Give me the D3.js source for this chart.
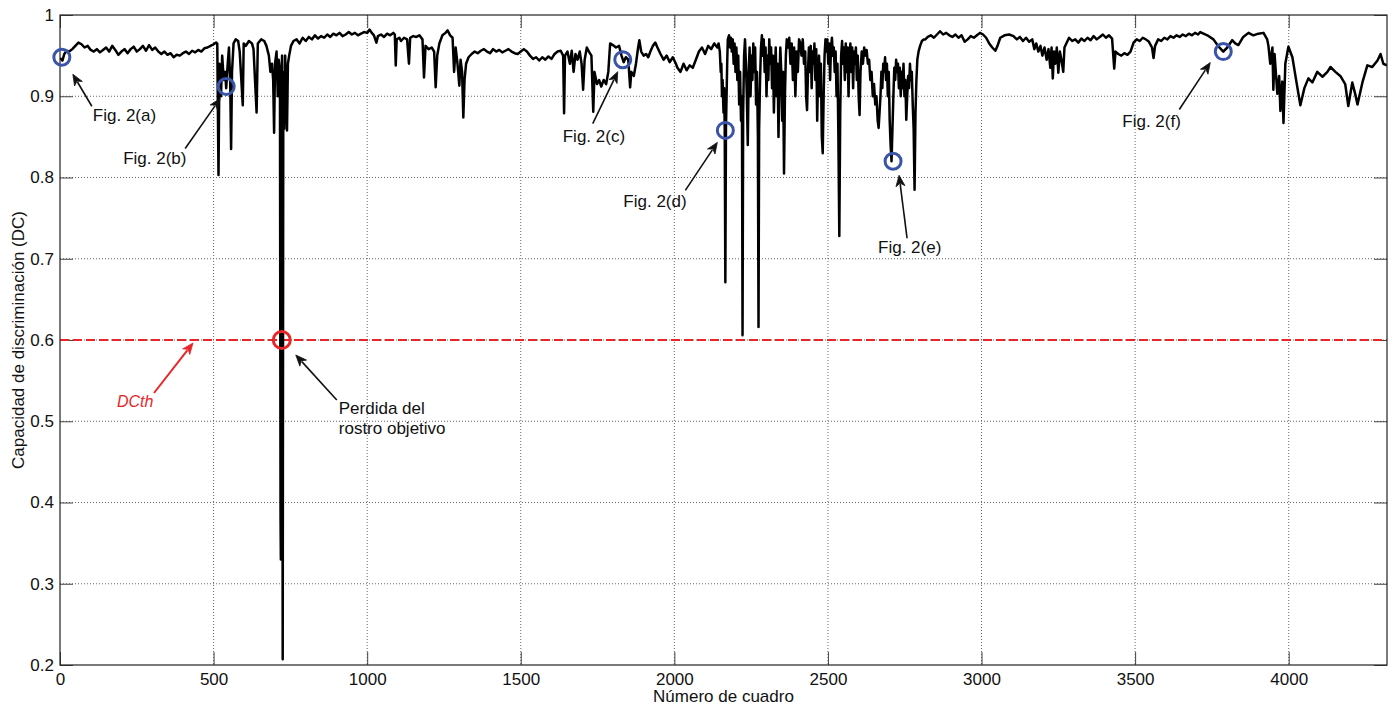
<!DOCTYPE html>
<html>
<head>
<meta charset="utf-8">
<script src="https://cdn.jsdelivr.net/npm/d3@7"></script>
<style>
  body { margin: 0; background: #fff; }
  text { font-family: "Liberation Sans", Arial, Helvetica, sans-serif; }
</style>
</head>
<body>
<svg id="chart" width="1398" height="711"></svg>
<script>
// Discrimination capability (DC) per video frame
const frameNumbers = [
  0,8,14,22,30,40,50,60,70,80,90,100,110,120,130,140,150,160,170,180,190,200,210,220,230,240,250,260,270,280,290,300,310,320,330,340,350,360,370,380,390,400,410,420,430,440,450,460,470,480,490,500,508,
  512,516,519,524,528,533,538,541,546,550,554,557,560,565,572,580,585,595,598,605,615,625,630,640,644,655,665,672,680,685,690,694,697,700,705,709,712,716,718,719,720,721,723,725,727,730,733,736,739,742,746,752,760,770,
  780,790,800,810,820,830,840,850,860,870,880,890,900,910,920,930,940,950,960,970,980,990,1000,1008,1015,1022,1030,1035,1045,1055,1065,1075,1085,1090,1093,1096,1105,
  1110,1120,1130,1136,1140,1150,1160,1170,1180,1185,1190,1200,1210,1218,1223,1228,1235,1245,1255,1262,1270,1278,1283,1288,1294,1300,1304,1309,1313,1317,1322,1330,1340,1350,1360,1370,1380,1390,1400,1410,1420,1430,1440,1450,1460,1470,1480,1490,1500,
  1510,1520,1530,1540,1550,1560,1570,1580,1590,1600,1610,1620,1630,1638,1641,1644,1652,1660,1666,1672,1678,1685,1692,1698,1703,1708,1715,1722,1730,1736,1740,1748,1755,1762,1770,1778,1785,1791,1800,1810,1820,1828,1835,1842,1850,1856,1860,1868,1875,1882,1886,1892,1900,1908,1915,1922,1930,1938,1945,1955,1965,1975,1985,1995,2005,
  2010,2020,2030,2040,2050,2060,2070,2080,2090,2100,2110,2120,2130,
  2140,2144,2148,2151,2153,2155,2157,2160,2162,2164,2166,2168,2170,2172,2174,2178,2181,2184,2187,2190,2193,2196,2199,2202,2205,2208,2211,2214,2217,2220,2222,2224,2227,2230,2233,2236,2239,2242,2245,2248,2251,2254,2257,2260,2263,2266,2269,2272,2274,2276,2279,2282,2285,2288,2291,2294,2297,2300,2303,2306,2309,2312,2315,2318,2321,2324,2327,2330,2333,2336,2339,2342,2345,2348,2351,2354,2357,2360,2363,2366,2370,2374,2378,2382,2386,2390,2394,2398,2402,2406,2410,2414,2418,
  2422,2426,2429,2432,2435,2438,2441,2444,2447,2450,2453,2456,2459,2462,2465,2468,2471,2474,2477,2480,2483,2486,2489,2492,2495,2498,2501,2504,2507,2510,2513,2516,2519,2522,2525,2528,2531,2534,2537,2540,2543,2546,2549,2552,2555,2558,2561,2564,2567,2570,2573,2576,2579,2582,2585,2588,2591,2594,2597,2600,2603,2606,2610,2614,2618,2622,2626,2630,2634,2638,2642,2646,2650,2654,2658,2662,2665,2668,2671,2674,2677,2680,2683,2686,2689,2692,2695,2698,2701,2704,2707,2710,2713,2716,2719,2722,2725,2728,2731,2734,2737,2740,2743,2746,2749,2752,2755,2758,2761,2764,2767,2770,2773,2776,2779,2782,2785,2788,2791,2795,2800,2806,2812,
  2817,2825,2835,2845,2855,2865,2875,2885,2895,2905,2915,2925,2935,2945,2955,2965,2975,2985,2995,3005,3015,3025,3035,3045,3052,3061,
  3075,3090,3104,3115,3125,3135,3145,3155,3165,3172,3178,3185,3192,3198,3205,3212,3218,3224,3228,3232,3236,3240,3245,3250,3255,3260,3266,3270,3276,3285,3295,3305,3315,3325,3335,3345,3355,3365,3375,3385,3395,3405,3415,3425,3432,3436,3445,3455,3465,3475,3485,3495,3505,3515,3525,3535,3545,3555,3560,3565,3575,3585,3595,3605,3615,3625,3635,3645,3655,3665,3675,3685,3695,3705,3712,
  3735,3755,3772,3787,3800,3816,3826,3836,3852,3869,3885,3901,3918,3930,3934,3940,3947,3950,3954,3963,3969,3973,3979,3983,3989,3999,4012,4025,4038,4051,4064,4077,4093,4110,4126,4136,4152,4168,4184,4194,4207,4217,4224,4240,4256,4272,4289,4299,4308,4320
];
const dcValues = [
  0.947,0.944,0.952,0.956,0.955,0.958,0.962,0.966,0.964,0.960,0.962,0.957,0.955,0.958,0.954,0.957,0.960,0.955,0.962,0.957,0.951,0.955,0.958,0.953,0.958,0.961,0.955,0.958,0.962,0.956,0.963,0.957,0.960,0.955,0.952,0.955,0.951,0.953,0.948,0.951,0.950,0.953,0.955,0.952,0.956,0.954,0.957,0.955,0.959,0.960,0.962,0.964,0.966,
  0.965,0.803,0.940,0.900,0.950,0.920,0.930,0.910,0.940,0.960,0.920,0.835,0.930,0.965,0.970,0.968,0.955,0.889,0.965,0.962,0.968,0.965,0.958,0.880,0.965,0.970,0.968,0.962,0.950,0.930,0.940,0.920,0.855,0.940,0.955,0.900,0.945,0.930,0.380,0.330,0.370,0.920,0.950,0.207,0.930,0.860,0.950,0.900,0.858,0.940,0.950,0.962,0.968,0.970,
  0.965,0.972,0.968,0.973,0.970,0.975,0.971,0.974,0.972,0.976,0.973,0.977,0.975,0.978,0.974,0.976,0.979,0.976,0.978,0.975,0.977,0.979,0.978,0.982,0.978,0.975,0.966,0.974,0.976,0.973,0.977,0.975,0.978,0.976,0.938,0.970,0.972,
  0.968,0.972,0.970,0.940,0.972,0.974,0.973,0.975,0.970,0.923,0.962,0.958,0.960,0.955,0.911,0.950,0.965,0.975,0.978,0.981,0.975,0.972,0.930,0.960,0.940,0.913,0.945,0.930,0.874,0.920,0.940,0.948,0.952,0.955,0.953,0.956,0.958,0.955,0.953,0.958,0.955,0.957,0.954,0.956,0.958,0.955,0.953,0.952,0.955,
  0.958,0.955,0.950,0.946,0.948,0.944,0.948,0.945,0.949,0.946,0.952,0.955,0.956,0.950,0.879,0.950,0.955,0.940,0.956,0.930,0.952,0.945,0.955,0.940,0.908,0.945,0.960,0.955,0.950,0.881,0.930,0.915,0.920,0.912,0.920,0.915,0.930,0.965,0.963,0.960,0.962,0.950,0.942,0.948,0.945,0.911,0.930,0.925,0.940,0.960,0.969,0.955,0.950,0.952,0.948,0.955,0.962,0.966,0.960,0.952,0.945,0.950,0.942,0.948,0.940,
  0.935,0.930,0.940,0.932,0.938,0.935,0.945,0.955,0.960,0.952,0.962,0.958,0.965,
  0.960,0.965,0.955,0.930,0.940,0.900,0.920,0.880,0.910,0.860,0.671,0.860,0.900,0.940,0.970,0.975,0.960,0.972,0.955,0.970,0.940,0.965,0.930,0.960,0.920,0.950,0.890,0.930,0.870,0.900,0.606,0.880,0.950,0.970,0.940,0.900,0.840,0.930,0.960,0.900,0.950,0.920,0.965,0.930,0.960,0.890,0.930,0.850,0.616,0.860,0.920,0.960,0.975,0.950,0.970,0.930,0.960,0.900,0.950,0.920,0.970,0.940,0.960,0.910,0.950,0.880,0.930,0.960,0.900,0.940,0.850,0.920,0.960,0.930,0.870,0.930,0.805,0.900,0.950,0.970,0.960,0.972,0.940,0.965,0.920,0.960,0.900,0.955,0.930,0.970,0.965,0.950,0.970,
  0.940,0.955,0.900,0.883,0.930,0.960,0.930,0.962,0.910,0.955,0.940,0.965,0.920,0.958,0.870,0.930,0.950,0.900,0.940,0.850,0.830,0.900,0.950,0.970,0.955,0.970,0.940,0.965,0.920,0.960,0.972,0.950,0.960,0.930,0.955,0.900,0.940,0.850,0.728,0.880,0.950,0.968,0.940,0.960,0.920,0.965,0.930,0.960,0.900,0.950,0.965,0.930,0.960,0.910,0.955,0.940,0.960,0.920,0.950,0.900,0.877,0.930,0.955,0.940,0.960,0.950,0.957,0.940,0.945,0.920,0.930,0.900,0.915,0.890,0.900,0.870,0.861,0.880,0.900,0.930,0.910,0.940,0.930,0.948,0.920,0.940,0.900,0.930,0.870,0.840,0.820,0.860,0.900,0.935,0.920,0.945,0.930,0.940,0.910,0.935,0.900,0.930,0.910,0.940,0.900,0.920,0.871,0.900,0.925,0.910,0.940,0.920,0.930,0.890,0.860,0.785,0.880,0.920,0.945,0.955,0.962,0.968,0.970,
  0.970,0.973,0.975,0.972,0.976,0.980,0.976,0.978,0.975,0.973,0.976,0.972,0.975,0.967,0.970,0.974,0.972,0.975,0.978,0.976,0.972,0.965,0.960,0.956,0.962,0.972,
  0.975,0.976,0.974,0.970,0.973,0.968,0.972,0.967,0.970,0.958,0.965,0.955,0.962,0.950,0.960,0.945,0.958,0.935,0.960,0.922,0.955,0.940,0.960,0.929,0.955,0.945,0.930,0.960,0.965,0.972,0.968,0.970,0.966,0.971,0.968,0.972,0.969,0.974,0.970,0.973,0.976,0.972,0.975,0.971,0.934,0.955,0.952,0.950,0.953,0.951,0.955,0.966,0.970,0.968,0.972,0.970,0.967,0.960,0.947,0.962,0.970,0.968,0.972,0.970,0.974,0.972,0.975,0.973,0.976,0.974,0.977,0.975,0.978,0.976,0.979,
  0.975,0.970,0.961,0.955,0.960,0.969,0.965,0.963,0.973,0.978,0.975,0.977,0.978,0.970,0.962,0.940,0.960,0.908,0.952,0.903,0.925,0.882,0.918,0.867,0.940,0.961,0.948,0.918,0.889,0.910,0.922,0.917,0.930,0.924,0.930,0.936,0.930,0.925,0.915,0.888,0.917,0.902,0.890,0.917,0.938,0.936,0.944,0.952,0.940,0.938
];

const xTicks = [0, 500, 1000, 1500, 2000, 2500, 3000, 3500, 4000];
const yTicks = [0.2, 0.3, 0.4, 0.5, 0.6, 0.7, 0.8, 0.9, 1];
const xTitle = "Número de cuadro";
const yTitle = "Capacidad de discriminación (DC)";
const dcThreshold = 0.6;

// Frames shown as sample images, with the DC value at each
const sampleLabels = ["Fig. 2(a)", "Fig. 2(b)", "Fig. 2(c)", "Fig. 2(d)", "Fig. 2(e)", "Fig. 2(f)"];
const sampleFrames = [6, 541, 1832, 2166, 2712, 3787];
const sampleDC = [0.948, 0.912, 0.945, 0.858, 0.820, 0.955];

// Frame where the target face is lost
const lossFrame = 722;
const lossLabel = ["Perdida del", "rostro objetivo"];
const thresholdLabel = "DCth";

const W = 1398, H = 711;
const margin = { top: 15, right: 11, bottom: 46, left: 60 };
const iw = W - margin.left - margin.right;
const ih = H - margin.top - margin.bottom;

const svg = d3.select("#chart");
const g = svg.append("g").attr("transform", `translate(${margin.left},${margin.top})`);

const x = d3.scaleLinear().domain([0, 4320]).range([0, iw]);
const y = d3.scaleLinear().domain([0.2, 1]).range([ih, 0]);

// dotted grid
g.append("g").selectAll("line").data(xTicks.slice(1)).join("line")
  .attr("x1", d => x(d)).attr("x2", d => x(d)).attr("y1", 0).attr("y2", ih)
  .attr("stroke", "#666").attr("stroke-width", 1).attr("stroke-dasharray", "1,2");
g.append("g").selectAll("line").data(yTicks.slice(1, -1)).join("line")
  .attr("x1", 0).attr("x2", iw).attr("y1", d => y(d)).attr("y2", d => y(d))
  .attr("stroke", "#666").attr("stroke-width", 1).attr("stroke-dasharray", "1,2");

// axes with inward ticks on all four sides
const tickLen = 13;
const axB = g.append("g").attr("transform", `translate(0,${ih})`)
  .call(d3.axisBottom(x).tickValues(xTicks).tickSizeInner(-tickLen).tickSizeOuter(0).tickPadding(8).tickFormat(d3.format("d")));
const axT = g.append("g")
  .call(d3.axisTop(x).tickValues(xTicks).tickSizeInner(-tickLen).tickSizeOuter(0).tickFormat(""));
const axL = g.append("g")
  .call(d3.axisLeft(y).tickValues(yTicks).tickSizeInner(-tickLen).tickSizeOuter(0).tickPadding(6).tickFormat(d => d === 1 ? "1" : d3.format(".1f")(d)));
const axR = g.append("g").attr("transform", `translate(${iw},0)`)
  .call(d3.axisRight(y).tickValues(yTicks).tickSizeInner(-tickLen).tickSizeOuter(0).tickFormat(""));
[axB, axT, axL, axR].forEach(a => {
  a.select(".domain").remove();
  a.selectAll(".tick line").attr("stroke", "#444");
  a.selectAll("text").attr("font-size", 17).attr("fill", "#111")
    .attr("font-family", '"Liberation Sans", Arial, sans-serif');
});

// clip for the trace
svg.append("defs").append("clipPath").attr("id", "plotClip")
  .append("rect").attr("x", 0).attr("y", 0).attr("width", iw).attr("height", ih);

// DC threshold line
g.append("line")
  .attr("x1", 0).attr("x2", iw).attr("y1", y(dcThreshold)).attr("y2", y(dcThreshold))
  .attr("stroke", "#e8262a").attr("stroke-width", 2).attr("stroke-dasharray", "9,4");

// DC trace
const series = frameNumbers.map((f, i) => [f, dcValues[i]]);
g.append("path").datum(series)
  .attr("clip-path", "url(#plotClip)")
  .attr("fill", "none").attr("stroke", "#000").attr("stroke-width", 2.5)
  .attr("stroke-linejoin", "round")
  .attr("d", d3.line().x(d => x(d[0])).y(d => y(d[1])));

// box
g.append("rect").attr("x", 0).attr("y", 0).attr("width", iw).attr("height", ih)
  .attr("fill", "none").attr("stroke", "#222").attr("stroke-width", 1.2);

// arrow helper
function arrow(x1, y1, x2, y2, color, width) {
  const a = Math.atan2(y2 - y1, x2 - x1);
  const len = 11, half = 4.5;
  const bx = x2 - len * Math.cos(a), by = y2 - len * Math.sin(a);
  g.append("line").attr("x1", x1).attr("y1", y1).attr("x2", bx + 2 * Math.cos(a)).attr("y2", by + 2 * Math.sin(a))
    .attr("stroke", color).attr("stroke-width", width);
  const p1 = [bx + half * Math.sin(a), by - half * Math.cos(a)];
  const p2 = [bx - half * Math.sin(a), by + half * Math.cos(a)];
  g.append("path").attr("d", `M${x2},${y2}L${p1[0]},${p1[1]}L${bx + 3 * Math.cos(a)},${by + 3 * Math.sin(a)}L${p2[0]},${p2[1]}Z`)
    .attr("fill", color).attr("stroke", color).attr("stroke-width", 0.8);
}

// label placement relative to each sample marker (pixels): arrow tail, arrow head, text origin
const sampleLayout = [
  { tail: [30, 49], head: [11, 17], text: [31, 64] },
  { tail: [-41, 62], head: [-6, 12], text: [-103, 77] },
  { tail: [-30, 64], head: [-5, 12], text: [-60, 82] },
  { tail: [-40, 60], head: [-8, 12], text: [-102, 77] },
  { tail: [14, 77], head: [6, 14], text: [-15, 92] },
  { tail: [-44, 58], head: [-13, 11], text: [-101, 75] }
];

sampleFrames.forEach((f, i) => {
  const cx = x(f), cy = y(sampleDC[i]);
  const L = sampleLayout[i];
  arrow(cx + L.tail[0], cy + L.tail[1], cx + L.head[0], cy + L.head[1], "#111", 1.6);
  g.append("text").attr("x", cx + L.text[0]).attr("y", cy + L.text[1])
    .attr("font-size", 17).attr("fill", "#111").text(sampleLabels[i]);
  g.append("circle").attr("cx", cx).attr("cy", cy).attr("r", 8)
    .attr("fill", "none").attr("stroke", "#3a55a8").attr("stroke-width", 3);
});

// target loss marker
{
  const cx = x(lossFrame), cy = y(dcThreshold);
  g.append("circle").attr("cx", cx).attr("cy", cy).attr("r", 8.5)
    .attr("fill", "none").attr("stroke", "#e8262a").attr("stroke-width", 3);
  arrow(cx + 55, cy + 60, cx + 14, cy + 15, "#111", 1.6);
  lossLabel.forEach((t, k) => {
    g.append("text").attr("x", cx + 57).attr("y", cy + 61 + 13 + k * 20)
      .attr("font-size", 17).attr("fill", "#111").text(t);
  });
}

// threshold label
{
  const ty = y(dcThreshold);
  arrow(94, ty + 53, 133, ty + 3, "#e8262a", 2);
  g.append("text").attr("x", 57).attr("y", ty + 67)
    .attr("font-size", 16).attr("font-style", "italic").attr("fill", "#e8262a").text(thresholdLabel);
}

// axis titles
svg.append("text").attr("x", margin.left + iw / 2).attr("y", 702)
  .attr("text-anchor", "middle").attr("font-size", 17).attr("fill", "#111").text(xTitle);
svg.append("text").attr("transform", `translate(24,${margin.top + ih / 2}) rotate(-90)`)
  .attr("text-anchor", "middle").attr("font-size", 17).attr("fill", "#111").text(yTitle);
</script>
</body>
</html>
